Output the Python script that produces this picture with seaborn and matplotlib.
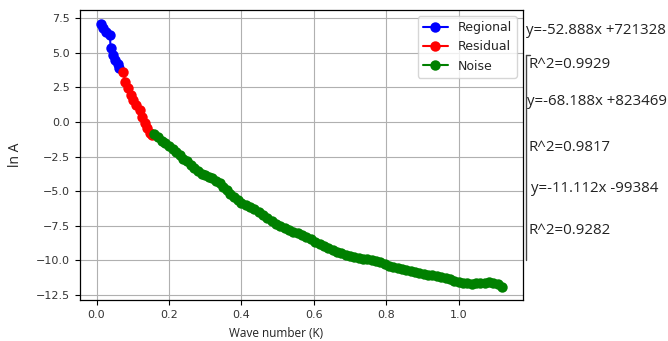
import matplotlib
matplotlib.use("Agg")
import matplotlib.pyplot as plt
from matplotlib.lines import Line2D
import seaborn as sns
import pandas as pd

# ---- data ----
regional_x = [0.012, 0.018, 0.027, 0.037, 0.039, 0.046, 0.052, 0.058, 0.061]
regional_y = [7.08, 6.77, 6.48, 6.28, 5.32, 4.84, 4.48, 4.19, 3.88]

residual_x = [0.073, 0.080, 0.087, 0.094, 0.101, 0.110, 0.119, 0.126, 0.133, 0.140, 0.147, 0.153]
residual_y = [3.63, 2.91, 2.43, 1.95, 1.59, 1.23, 0.87, 0.38, -0.10, -0.46, -0.82, -0.94]

noise_x = [0.160, 0.170, 0.180, 0.190, 0.200, 0.210, 0.220, 0.230, 0.240, 0.250,
           0.260, 0.270, 0.280, 0.290, 0.300, 0.310, 0.320, 0.330, 0.340, 0.350,
           0.360, 0.370, 0.380, 0.390, 0.400, 0.412, 0.424, 0.436, 0.448, 0.460,
           0.472, 0.484, 0.496, 0.508, 0.520, 0.532, 0.544, 0.556, 0.568, 0.580,
           0.592, 0.604, 0.616, 0.628, 0.640, 0.652, 0.664, 0.676, 0.688, 0.700,
           0.712, 0.724, 0.736, 0.748, 0.760, 0.772, 0.784, 0.796, 0.808, 0.820,
           0.832, 0.844, 0.856, 0.868, 0.880, 0.892, 0.904, 0.916, 0.928, 0.940,
           0.952, 0.964, 0.976, 0.988, 1.000, 1.012, 1.024, 1.036, 1.048, 1.060,
           1.072, 1.084, 1.096, 1.108, 1.120]
noise_y = [-0.90, -1.10, -1.40, -1.55, -1.75, -1.95, -2.20, -2.40, -2.65, -2.85,
           -3.10, -3.30, -3.55, -3.75, -3.85, -3.95, -4.05, -4.25, -4.45, -4.70,
           -4.95, -5.20, -5.45, -5.65, -5.85, -6.00, -6.15, -6.30, -6.50, -6.75,
           -6.95, -7.15, -7.35, -7.55, -7.70, -7.85, -7.95, -8.05, -8.20, -8.35,
           -8.50, -8.65, -8.80, -8.95, -9.10, -9.25, -9.40, -9.50, -9.62, -9.72,
           -9.80, -9.85, -9.90, -9.95, -10.00, -10.05, -10.15, -10.30, -10.40, -10.48,
           -10.55, -10.62, -10.70, -10.78, -10.85, -10.92, -11.00, -11.05, -11.10, -11.15,
           -11.22, -11.30, -11.38, -11.48, -11.58, -11.62, -11.68, -11.70, -11.65, -11.62,
           -11.62, -11.60, -11.62, -11.70, -11.92]

series_names = ["Regional", "Residual", "Noise"]
series_colors = ["blue", "red", "green"]

x_ticks = [0.0, 0.2, 0.4, 0.6, 0.8, 1.0]
y_ticks = [-12.5, -10.0, -7.5, -5.0, -2.5, 0.0, 2.5, 5.0, 7.5]

annotations = ["y=-52.888x +721328", "R^2=0.9929",
               "y=-68.188x +823469", "R^2=0.9817",
               "y=-11.112x -99384", "R^2=0.9282"]

# ---- figure ----
sns.set_theme(style="ticks", rc={"axes.grid": True})
plt.rcParams["font.family"] = ["DejaVu Sans"]

W, H = 668, 341
fig = plt.figure(figsize=(W / 100, H / 100), dpi=100)
ax = fig.add_axes([80 / W, 1 - 300 / H, (523 - 80) / W, (300 - 10) / H])

df = pd.concat([
    pd.DataFrame({"x": regional_x, "y": regional_y, "s": series_names[0]}),
    pd.DataFrame({"x": residual_x, "y": residual_y, "s": series_names[1]}),
    pd.DataFrame({"x": noise_x, "y": noise_y, "s": series_names[2]}),
])

for name, col in zip(series_names, series_colors):
    sub = df[df["s"] == name]
    sns.lineplot(data=sub, x="x", y="y", ax=ax, color=col, marker="o",
                 markersize=7.5, markeredgecolor=col, markeredgewidth=0,
                 linewidth=1.5, sort=False, label=name, estimator=None)

ax.set_xticks(x_ticks)
ax.set_yticks(y_ticks)
ax.set_xlim(-0.0456, 1.178)
ax.set_ylim(-12.88, 8.1)
ax.grid(True, color="#b0b0b0", linewidth=0.8)
for sp in ax.spines.values():
    sp.set_color("black")
    sp.set_linewidth(0.9)
ax.tick_params(axis="both", direction="out", length=3.5, width=0.8,
               colors="black", labelsize=8, labelcolor="#333333")

ax.set_xlabel("Wave number (K)", fontsize=8.5, family=["Open Sans"], color="#222222")
ax.xaxis.set_label_coords((276 - 80) / 443, -0.092)
ax.set_ylabel("ln A", fontsize=10, family=["Open Sans"], color="#222222")
ax.yaxis.set_label_coords(-0.128, 0.5)

leg = ax.legend(loc="upper right", fontsize=9, frameon=True, framealpha=0.8,
                edgecolor="#cccccc", fancybox=True, handlelength=2.0)

# right-side annotations
ys = [30, 65, 102, 147, 189, 230]
xs = [526, 528, 527, 528, 531, 528]
for t, xp, yp in zip(annotations, xs, ys):
    fig.text(xp / W, 1 - yp / H, t, fontsize=10.8, family=["Open Sans"],
             color="#222222", va="center", ha="left")

# bracket line
fig.add_artist(Line2D([526 / W, 526 / W], [1 - 55 / H, 1 - 260 / H],
                      transform=fig.transFigure, color="#444444", linewidth=1.0))
fig.add_artist(Line2D([526 / W, 530 / W], [1 - 55 / H, 1 - 55 / H],
                      transform=fig.transFigure, color="#444444", linewidth=1.0))

fig.savefig("out.png", dpi=100)
